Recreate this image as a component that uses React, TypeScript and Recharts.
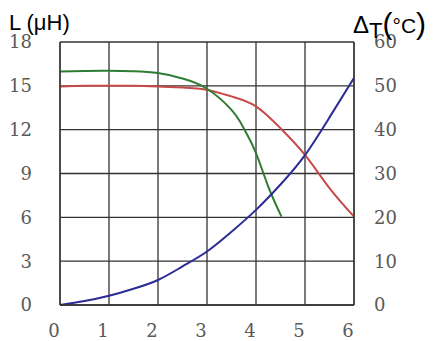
import { LineChart, Line, XAxis, YAxis, CartesianGrid } from 'recharts'

// inductance curve 1 (red), L in µH
const redCurrent = [0, 0.5, 1, 1.5, 2, 2.5, 3, 3.5, 4, 4.5, 5, 5.5, 6]
const redL = [14.95, 15, 15, 15, 14.95, 14.88, 14.72, 14.28, 13.6, 12.1, 10.27, 8.0, 6.05]

// inductance curve 2 (green)
const greenCurrent = [0, 0.5, 1, 1.5, 2, 2.5, 3, 3.5, 3.75, 4, 4.25, 4.52]
const greenL = [15.98, 16.02, 16.03, 16, 15.88, 15.5, 14.8, 13.35, 12.1, 10.4, 8.1, 6.05]

// temperature rise (blue), right axis
const blueCurrent = [0, 0.5, 1, 1.5, 2, 2.5, 3, 3.5, 4, 4.5, 5, 5.5, 6]
const blueT = [0, 0.9, 2.1, 3.7, 5.7, 8.8, 12.2, 16.7, 21.7, 27.5, 34.2, 42.8, 51.8]

const xTicks = [0, 1, 2, 3, 4, 5, 6]
const lTicks = [0, 3, 6, 9, 12, 15, 18]
const tTicks = [0, 10, 20, 30, 40, 50, 60]

const redData = redCurrent.map((x, i) => ({ x, v: redL[i] }))
const greenData = greenCurrent.map((x, i) => ({ x, v: greenL[i] }))
const blueData = blueCurrent.map((x, i) => ({ x, v: blueT[i] }))

const tickStyle = { fill: '#595959', fontFamily: 'DejaVu Serif', fontSize: 18 }
const gridColor = '#333'

export default function App() {
  return (
    <div style={{ position: 'absolute', left: 0, top: 0, width: 433, height: 341, background: '#fff' }}>
      <LineChart width={433} height={341} margin={{ top: 42, right: 0, bottom: 0, left: 0 }}>
        <CartesianGrid yAxisId="L" stroke={gridColor} strokeWidth={1.3} />
        <XAxis
          dataKey="x"
          type="number"
          domain={[0, 6]}
          ticks={xTicks}
          height={36}
          tickSize={0}
          tickMargin={19}
          tickLine={false}
          axisLine={{ stroke: gridColor, strokeWidth: 1.3 }}
          tick={{ ...tickStyle, dx: -6 }}
          allowDuplicatedCategory={false}
        />
        <YAxis
          yAxisId="L"
          orientation="left"
          domain={[0, 18]}
          ticks={lTicks}
          width={60}
          tickSize={0}
          tickMargin={28}
          tickLine={false}
          axisLine={{ stroke: gridColor, strokeWidth: 1.3 }}
          tick={tickStyle}
        />
        <YAxis
          yAxisId="T"
          orientation="right"
          domain={[0, 60]}
          ticks={tTicks}
          width={79}
          tickSize={0}
          tickMargin={20}
          tickLine={false}
          axisLine={{ stroke: gridColor, strokeWidth: 1.3 }}
          tick={tickStyle}
        />
        <Line yAxisId="L" data={redData} dataKey="v" type="natural" stroke="#c64a48" strokeWidth={2} dot={false} isAnimationActive={false} />
        <Line yAxisId="L" data={greenData} dataKey="v" type="natural" stroke="#2f7d34" strokeWidth={2} dot={false} isAnimationActive={false} />
        <Line yAxisId="T" data={blueData} dataKey="v" type="natural" stroke="#2b2b96" strokeWidth={2} dot={false} isAnimationActive={false} />
      </LineChart>
      <svg width={433} height={341} style={{ position: 'absolute', left: 0, top: 0, pointerEvents: 'none' }}>
        <text x={9} y={30} fontFamily="Liberation Sans" fontSize={22} fill="#000">
          L (μH)
        </text>
        <text x={353} y={33} fontFamily="Liberation Sans" fontSize={24} fill="#000">
          Δ
          <tspan dy={5} fontSize={22}>T</tspan>
          <tspan dy={-4} fontSize={30}>(</tspan>
          <tspan dy={-1} fontSize={21}>°C</tspan>
          <tspan dy={1} fontSize={30}>)</tspan>
        </text>
      </svg>
    </div>
  )
}
